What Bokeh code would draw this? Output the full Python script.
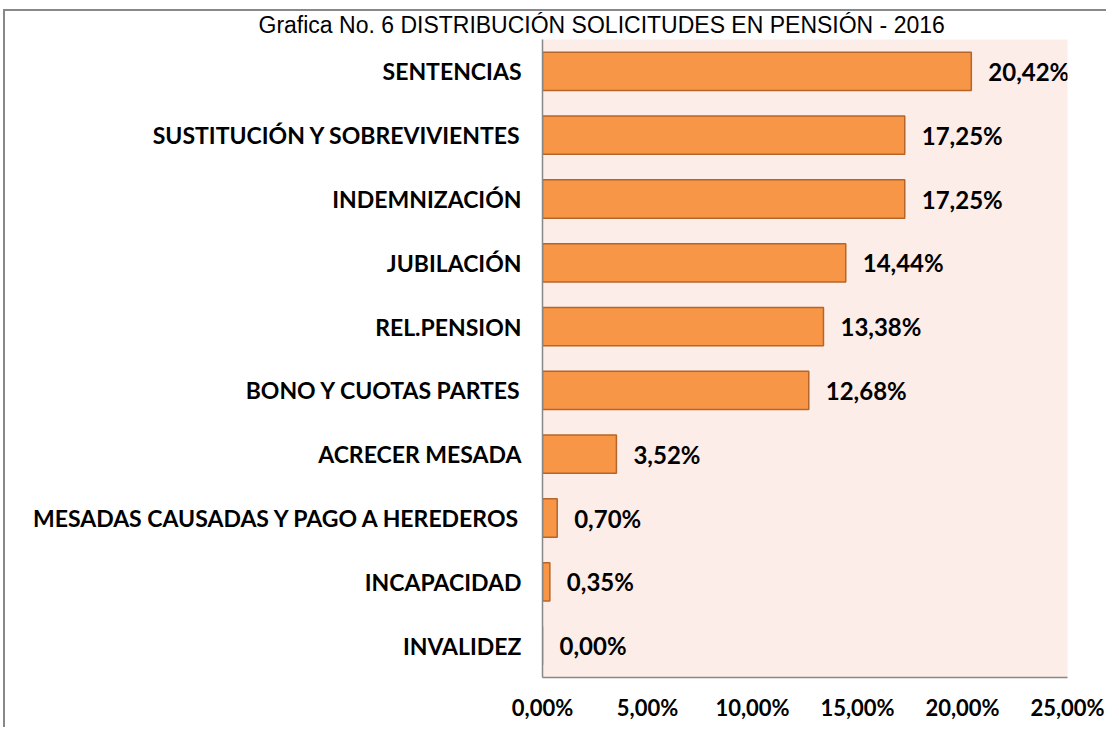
from bokeh.plotting import figure
from bokeh.models import (FactorRange, Range1d, FixedTicker, CustomJSTickFormatter,
                          ColumnDataSource, Title)
from bokeh.core.properties import value
from bokeh.embed import file_html
from bokeh.resources import INLINE

title_text = "Grafica No. 6  DISTRIBUCIÓN SOLICITUDES EN PENSIÓN - 2016"
categories = [
    "SENTENCIAS",
    "SUSTITUCIÓN Y SOBREVIVIENTES",
    "INDEMNIZACIÓN",
    "JUBILACIÓN",
    "REL.PENSION",
    "BONO Y CUOTAS PARTES",
    "ACRECER MESADA",
    "MESADAS CAUSADAS Y PAGO A HEREDEROS",
    "INCAPACIDAD",
    "INVALIDEZ",
]
percentages = [20.42, 17.25, 17.25, 14.44, 13.38, 12.68, 3.52, 0.70, 0.35, 0.00]
x_ticks = [0, 5, 10, 15, 20, 25]

labels = [f"{v:.2f}".replace(".", ",") + "%" for v in percentages]
src = ColumnDataSource(dict(cat=categories, val=percentages, lab=labels))

FONT = "Lato"

p = figure(
    width=1103, height=718,
    y_range=FactorRange(factors=list(reversed(categories))),
    x_range=Range1d(0, 25),
    output_backend="svg", toolbar_location=None,
    min_border_left=537, min_border_right=41,
    min_border_top=28, min_border_bottom=52,
    background_fill_color="#FCEDE8",
    border_fill_color="white",
    outline_line_color=None,
)
p.styles = {"border-left": "2px solid #888888", "border-top": "2px solid #888888",
            "margin-left": "3px", "margin-top": "9px"}

p.add_layout(Title(text=title_text, align="left", offset=-284, standoff=0,
                   vertical_align="top",
                   text_font="Liberation Sans", text_font_size="23px",
                   text_font_style="normal", text_color="#000000"), "above")

p.hbar(y="cat", right="val", left=0, height=0.6, source=src,
       fill_color="#F79646", line_color="#B6652A", line_width=1.5)

p.text(x="val", y="cat", text="lab", source=src, x_offset=17,
       text_align="left", text_baseline="middle",
       text_font=value(FONT), text_font_style="bold", text_font_size="24px",
       text_color="#000000")

p.xgrid.grid_line_color = None
p.ygrid.grid_line_color = None

p.xaxis.ticker = FixedTicker(ticks=x_ticks)
p.xaxis.formatter = CustomJSTickFormatter(code="return tick.toFixed(2).replace('.', ',') + '%';")
p.xaxis.axis_line_color = "#888888"
p.xaxis.axis_line_width = 1.5
p.xaxis.major_tick_line_color = None
p.xaxis.minor_tick_line_color = None
p.xaxis.major_label_standoff = 10
p.xaxis.major_label_text_font = FONT
p.xaxis.major_label_text_font_style = "bold"
p.xaxis.major_label_text_font_size = "22px"
p.xaxis.major_label_text_color = "#000000"

p.yaxis.axis_line_color = "#888888"
p.yaxis.axis_line_width = 1.5
p.yaxis.major_tick_line_color = None
p.yaxis.minor_tick_line_color = None
p.yaxis.major_label_standoff = 15
p.yaxis.major_label_text_font = FONT
p.yaxis.major_label_text_font_style = "bold"
p.yaxis.major_label_text_font_size = "23px"
p.yaxis.major_label_text_color = "#000000"

open("out.html", "w").write(file_html(p, INLINE))
